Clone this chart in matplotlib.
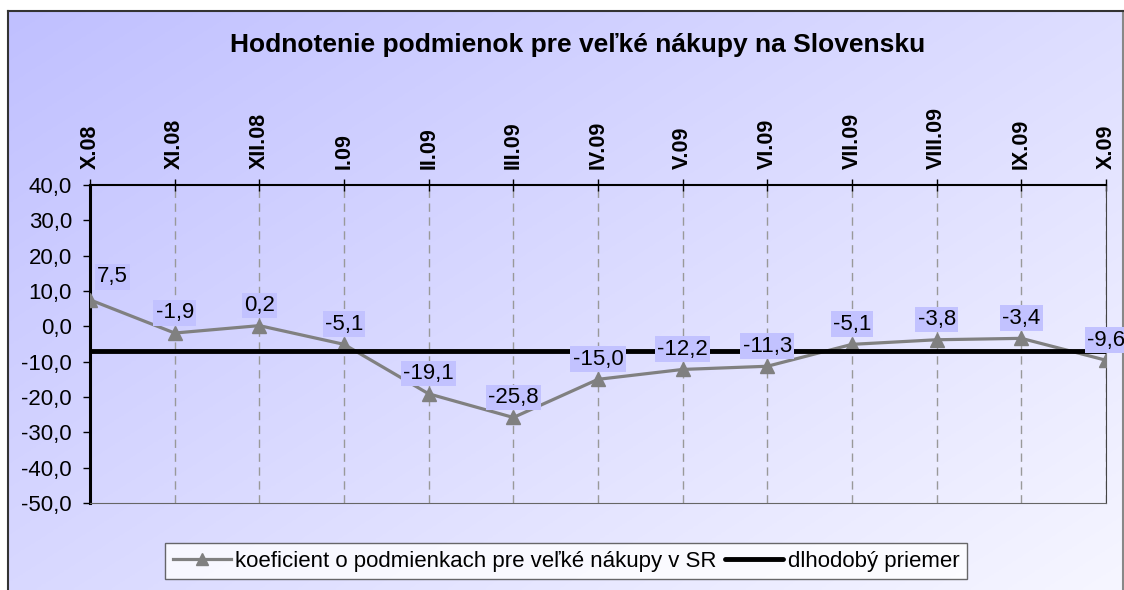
#recreates the "Hodnotenie podmienok pre velke nakupy" chart

import numpy as np
import matplotlib.pyplot as plt
from matplotlib.ticker import FuncFormatter

months = ["X.08", "XI.08", "XII.08", "I.09", "II.09", "III.09", "IV.09",
          "V.09", "VI.09", "VII.09", "VIII.09", "IX.09", "X.09"]
koef = [7.5, -1.9, 0.2, -5.1, -19.1, -25.8, -15.0, -12.2, -11.3, -5.1, -3.8, -3.4, -9.6]
priemer = [-7.0] * 13
yticks = [40, 30, 20, 10, 0, -10, -20, -30, -40, -50]

plt.rcParams['font.family'] = ['Liberation Sans', 'DejaVu Sans']

fig = plt.figure(figsize=(11.24, 5.90), dpi=100)
W, H = 1124.0, 590.0

# background panel with diagonal gradient
bg = fig.add_axes([8 / W, 0, 1115 / W, 1 - 11 / H], zorder=0)
gx, gy = np.meshgrid(np.linspace(0, 1, 200), np.linspace(0, 1, 200))
g = (0.55 * gx + 0.45 * gy)  # 0 top-left -> 1 bottom-right
c0 = np.array([192, 192, 255]) / 255.0
c1 = np.array([246, 246, 255]) / 255.0
img = c0[None, None, :] * (1 - g[..., None]) + c1[None, None, :] * g[..., None]
bg.imshow(img, aspect='auto', extent=[0, 1, 0, 1], origin='upper')
bg.set_xticks([])
bg.set_yticks([])
bg.spines['bottom'].set_visible(False)
bg.spines['top'].set_color('#333333')
bg.spines['left'].set_color('#333333')
bg.spines['right'].set_color('#888888')
for s in ['top', 'left', 'right']:
    bg.spines[s].set_linewidth(1.5)

ax = fig.add_axes([90 / W, 1 - 503 / H, (1106 - 90) / W, (503 - 185) / H], zorder=2)
ax.set_facecolor('none')
x = np.arange(len(months))

ax.plot(x, koef, color='#808080', lw=2.3, marker='^', markersize=10,
        label="koeficient o podmienkach pre veľké nákupy v SR", zorder=3)
ax.plot(x, priemer, color='black', lw=3.5, solid_capstyle='round',
        label="dlhodobý priemer", zorder=4)

for i, v in enumerate(koef):
    txt = ("%.1f" % v).replace(".", ",")
    if i == 0:
        ax.annotate(txt, (i, v), xytext=(5, 9), textcoords='offset points',
                    ha='left', va='bottom', fontsize=16, zorder=5,
                    bbox=dict(boxstyle='square,pad=0.1', fc='#c2c2ff', ec='none'))
    else:
        ax.annotate(txt, (i, v), xytext=(0, 7), textcoords='offset points',
                    ha='center', va='bottom', fontsize=16, zorder=5,
                    bbox=dict(boxstyle='square,pad=0.1', fc='#c2c2ff', ec='none'))

ax.set_xlim(0, 12)
ax.set_ylim(-50, 40)
ax.set_yticks(yticks)
ax.yaxis.set_major_formatter(FuncFormatter(lambda v, p: ("%.1f" % v).replace(".", ",")))
ax.set_xticks(x)
ax.set_xticklabels(months, rotation=90, fontweight='bold', fontsize=15.5)
ax.xaxis.tick_top()
ax.tick_params(axis='x', direction='inout', length=9, width=1, pad=7)
ax.tick_params(axis='y', direction='out', length=5, width=1, labelsize=16, pad=8)
ax.grid(axis='x', color='#999999', ls=(0, (6, 4)), lw=1)

ax.spines['left'].set_linewidth(2.2)
ax.spines['top'].set_linewidth(1.5)
ax.spines['left'].set_color('black')
ax.spines['top'].set_color('black')
ax.spines['right'].set_color('#444444')
ax.spines['bottom'].set_color('#666666')

fig.text(578 / W, 1 - 45 / H, "Hodnotenie podmienok pre veľké nákupy na Slovensku",
         ha='center', va='center', fontsize=19, fontweight='bold')

leg = fig.legend(loc='center', bbox_to_anchor=(566 / W, 1 - 561 / H), ncol=2,
                 prop={'family': ['Liberation Sans Narrow', 'Liberation Sans'], 'size': 16},
                 frameon=True, fancybox=False, edgecolor='#444444',
                 handlelength=2.6, handletextpad=0.2, columnspacing=0.4,
                 borderpad=0.35, markerscale=0.8)
leg.get_frame().set_linewidth(1)
leg.set_zorder(6)

fig.savefig("out.png", dpi=100)
